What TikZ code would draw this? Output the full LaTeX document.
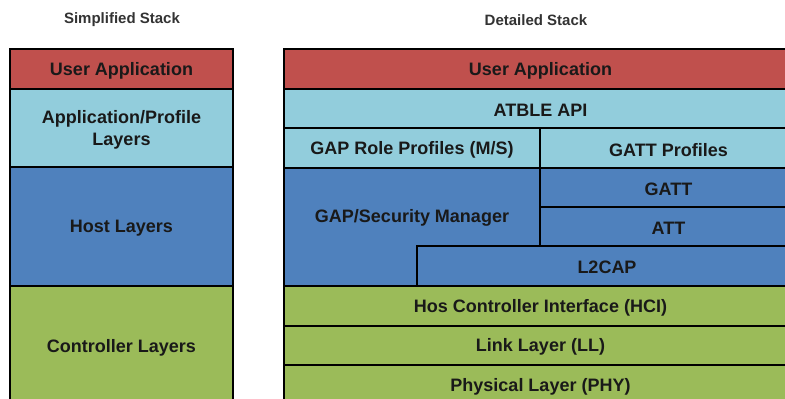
\documentclass[tikz,border=0pt]{standalone}
\usepackage{fontspec}
\setmainfont{Liberation Sans}
\definecolor{appred}{HTML}{C0504D}
\definecolor{profcyan}{HTML}{92CDDC}
\definecolor{hostblue}{HTML}{4F81BD}
\definecolor{ctrlgreen}{HTML}{9BBB59}
\tikzset{
  box/.style={draw=black, line width=2.5pt, inner sep=0pt},
  boxtext/.style={inner sep=0pt, align=center, yshift=-1.8pt,
    text=black!90, font=\fontsize{18}{22}\selectfont\bfseries},
  stacktitle/.style={inner sep=0pt, text=black!80,
    font=\fontsize{15}{18}\selectfont\bfseries}
}
% \stackbox{name}{x1}{y1}{x2}{y2}{fill}{text}
\newcommand\stackbox[7]{%
  \node[box, fill=#6, minimum width={#4-#2}, minimum height={#5-#3}]
    (#1) at ({(#2+#4)/2},{(#3+#5)/2}) {};
  \node[boxtext] (#1-t) at (#1.center) {#7};}
\begin{document}
\begin{tikzpicture}[x=1pt,y=-1pt]
\useasboundingbox (0,0) rectangle (785,399);
\clip (0,0) rectangle (785,399);
\fill[white] (0,0) rectangle (785,399);

% titles
\node[stacktitle] (tsimple) at (122,20) {Simplified Stack};
\node[stacktitle] (tdetail) at (536,20) {Detailed Stack};

% simplified stack
\stackbox{sua}{10}{49}{233}{89}{appred}{User Application}
\stackbox{sapl}{10}{89}{233}{167}{profcyan}{Application/Profile\\Layers}
\stackbox{shost}{10}{167}{233}{286}{hostblue}{Host Layers}
\stackbox{sctrl}{10}{286}{233}{406}{ctrlgreen}{Controller Layers}

% detailed stack
\stackbox{dua}{284}{49}{797}{89}{appred}{User Application}
\stackbox{api}{284}{89}{797}{128}{profcyan}{ATBLE API}
\stackbox{gaprole}{284}{128}{540}{168}{profcyan}{GAP Role Profiles (M/S)}
\stackbox{gattprof}{540}{128}{797}{168}{profcyan}{GATT Profiles}

% GAP/Security Manager wraps around the L2CAP corner
\draw[line width=2.5pt, fill=hostblue]
  (284,168) -- (540,168) -- (540,246) -- (417,246) -- (417,286) -- (284,286) -- cycle;
\node[boxtext] (gapsm) at (412,216) {GAP/Security Manager};

\stackbox{gatt}{540}{168}{797}{207}{hostblue}{GATT}
\stackbox{att}{540}{207}{797}{246}{hostblue}{ATT}
\stackbox{l2cap}{417}{246}{797}{286}{hostblue}{L2CAP}
\stackbox{hci}{284}{286}{797}{326}{ctrlgreen}{Hos Controller Interface (HCI)}
\stackbox{ll}{284}{326}{797}{365}{ctrlgreen}{Link Layer (LL)}
\stackbox{phy}{284}{365}{797}{405}{ctrlgreen}{Physical Layer (PHY)}
\end{tikzpicture}
\end{document}
